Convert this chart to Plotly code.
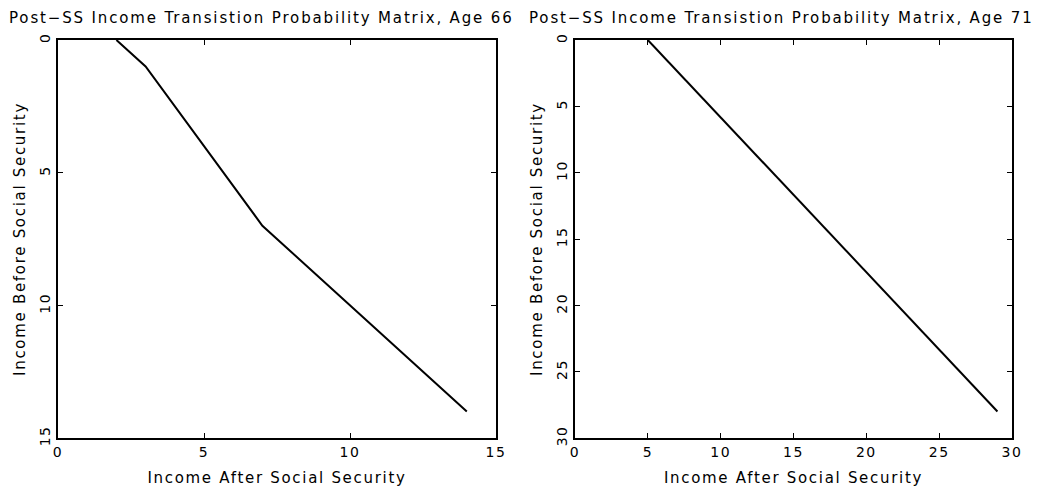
import plotly.graph_objects as go

# Left panel (Age 66)
x66 = [2, 3, 7, 14]
y66 = [0, 1, 7, 14]
# Right panel (Age 71)
x71 = [5, 29]
y71 = [0, 28]

ticks66 = [0, 5, 10, 15]
ticks71 = [0, 5, 10, 15, 20, 25, 30]

title66 = "Post\u2212SS Income Transistion Probability Matrix, Age 66"
title71 = "Post\u2212SS Income Transistion Probability Matrix, Age 71"
xlabel = "Income After Social Security"
ylabel = "Income Before Social Security"

W, H = 1044, 490
FONT = "DejaVu Sans"


def spaced(t, ls):
    return '<span style="letter-spacing:%spx">%s</span>' % (ls, t)


fig = go.Figure()
fig.add_trace(go.Scatter(x=x66, y=y66, mode="lines", line=dict(color="black", width=2),
                         xaxis="x", yaxis="y", showlegend=False, hoverinfo="skip"))
fig.add_trace(go.Scatter(x=x71, y=y71, mode="lines", line=dict(color="black", width=2),
                         xaxis="x2", yaxis="y2", showlegend=False, hoverinfo="skip"))

ydom = [(H - 438) / H, (H - 40) / H]
common = dict(showgrid=False, zeroline=False, showline=True, linecolor="black", linewidth=2,
              mirror="ticks", ticks="inside", ticklen=5, tickcolor="black", tickwidth=1,
              automargin=False,
              tickfont=dict(family=FONT, size=14, color="black"))


def ticktexts(vals):
    return [spaced(str(v), 1.5) for v in vals]


fig.update_layout(
    width=W, height=H, margin=dict(l=0, r=0, t=0, b=0, autoexpand=False),
    paper_bgcolor="white", plot_bgcolor="white",
    font=dict(family=FONT, size=14, color="black"),
    xaxis=dict(domain=[58 / W, 496 / W], range=[0, 15], tickvals=ticks66,
               ticktext=ticktexts(ticks66), anchor="y",
               title=dict(text=spaced(xlabel, 1.7), font=dict(size=15), standoff=14), **common),
    yaxis=dict(domain=ydom, range=[15, 0], tickvals=ticks66, ticktext=ticktexts(ticks66),
               tickangle=-90, anchor="x",
               title=dict(text=spaced(ylabel, 1.7), font=dict(size=15), standoff=8), **common),
    xaxis2=dict(domain=[575 / W, 1012 / W], range=[0, 30], tickvals=ticks71,
                ticktext=ticktexts(ticks71), anchor="y2",
                title=dict(text=spaced(xlabel, 1.7), font=dict(size=15), standoff=14), **common),
    yaxis2=dict(domain=ydom, range=[30, 0], tickvals=ticks71, ticktext=ticktexts(ticks71),
                tickangle=-90, anchor="x2",
                title=dict(text=spaced(ylabel, 1.7), font=dict(size=15), standoff=8), **common),
    annotations=[
        dict(text=spaced(title66, 1.85), x=261 / W, y=(H - 18) / H, xref="paper", yref="paper",
             showarrow=False, xanchor="center", yanchor="middle",
             font=dict(family=FONT, size=15, color="black")),
        dict(text=spaced(title71, 1.85), x=781 / W, y=(H - 18) / H, xref="paper", yref="paper",
             showarrow=False, xanchor="center", yanchor="middle",
             font=dict(family=FONT, size=15, color="black")),
    ],
)

fig.write_html("out.html", config={"displayModeBar": False},
               post_script="document.body.style.margin='0px';")
